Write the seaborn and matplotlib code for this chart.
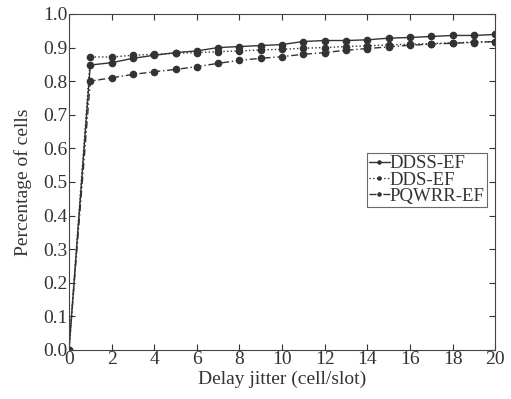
import numpy as np
import pandas as pd
import matplotlib
matplotlib.use("Agg")
import matplotlib.pyplot as plt
import seaborn as sns

# Data
jitter = list(range(0, 21))
ddss_ef = [0.0, 0.848, 0.855, 0.868, 0.877, 0.885, 0.890, 0.900, 0.903, 0.906, 0.909,
           0.918, 0.921, 0.921, 0.923, 0.928, 0.930, 0.933, 0.936, 0.936, 0.939]
dds_ef = [0.0, 0.872, 0.872, 0.877, 0.880, 0.883, 0.885, 0.888, 0.890, 0.893, 0.895,
          0.898, 0.900, 0.903, 0.905, 0.908, 0.910, 0.912, 0.914, 0.916, 0.918]
pqwrr_ef = [0.0, 0.800, 0.810, 0.820, 0.828, 0.835, 0.843, 0.853, 0.862, 0.868, 0.873,
            0.880, 0.885, 0.892, 0.897, 0.902, 0.907, 0.910, 0.913, 0.915, 0.918]
series_names = ["DDSS-EF", "DDS-EF", "PQWRR-EF"]

df = pd.DataFrame({"x": jitter * 3,
                   "y": ddss_ef + dds_ef + pqwrr_ef,
                   "series": sum([[n] * len(jitter) for n in series_names], [])})

sns.set_style("ticks")
plt.rcParams["font.family"] = ["Liberation Serif", "DejaVu Serif"]
plt.rcParams["xtick.direction"] = "in"
plt.rcParams["ytick.direction"] = "in"

fig = plt.figure(figsize=(5.11, 3.99), dpi=100)
ax = fig.add_axes([0.135, 0.123, 0.834, 0.842])

line_color = "#333333"
styles = {"DDSS-EF": "-", "DDS-EF": ":", "PQWRR-EF": (0, (5, 2, 1, 2))}
for name in series_names:
    sub = df[df["series"] == name]
    sns.lineplot(data=sub, x="x", y="y", ax=ax, color=line_color, linewidth=1.0,
                 linestyle=styles[name], marker="o", markersize=5.5,
                 markeredgewidth=0, label=name)

ax.set_xlim(0, 20)
ax.set_ylim(0, 1.0)
ax.set_xticks(range(0, 21, 2))
ax.set_yticks(np.arange(0, 1.01, 0.1))
ax.set_yticklabels([f"{v:.1f}" for v in np.arange(0, 1.01, 0.1)])
ax.tick_params(axis="both", labelsize=14, colors="#333333", length=4, width=0.8,
               top=True, right=True, pad=1)
for s in ax.spines.values():
    s.set_visible(True)
    s.set_linewidth(0.8)
    s.set_color("#444444")

ax.set_xlabel("Delay jitter (cell/slot)", fontsize=14, color="#333333", labelpad=2)
ax.set_ylabel("Percentage of cells", fontsize=14, color="#333333", labelpad=8)

leg = ax.legend(loc="upper left", bbox_to_anchor=(0.70, 0.585), fontsize=13.5,
                frameon=True, fancybox=False, handlelength=1.1, handletextpad=0.0,
                borderpad=0.1, labelspacing=-0.05, borderaxespad=0, markerscale=0.6)
leg.get_frame().set_edgecolor("#444444")
leg.get_frame().set_linewidth(0.8)
for t in leg.get_texts():
    t.set_color("#333333")

fig.savefig("out.png", dpi=100)
